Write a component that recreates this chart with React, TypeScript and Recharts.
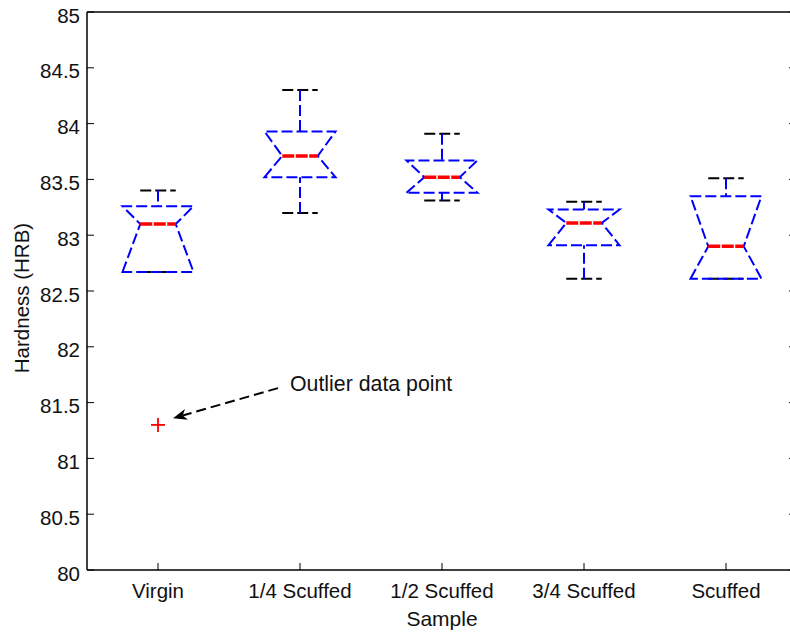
import React from 'react';
import {
  ComposedChart,
  XAxis,
  YAxis,
  Scatter,
  ReferenceLine,
  ReferenceDot,
} from 'recharts';

const samples = ['Virgin', '1/4 Scuffed', '1/2 Scuffed', '3/4 Scuffed', 'Scuffed'];
const sampleIndex = [1, 2, 3, 4, 5];
const whiskerLow = [82.67, 83.2, 83.31, 82.61, 82.61];
const quartile1 = [82.67, 83.52, 83.38, 82.91, 82.61];
const medians = [83.1, 83.71, 83.52, 83.11, 82.9];
const quartile3 = [83.26, 83.93, 83.67, 83.23, 83.35];
const whiskerHigh = [83.4, 84.3, 83.91, 83.3, 83.51];
const outlierSample = [1];
const outlierValue = [81.3];
const hardnessTicks = [80, 80.5, 81, 81.5, 82, 82.5, 83, 83.5, 84, 84.5, 85];

// annotation (data units)
const noteText = 'Outlier data point';
const noteAt = { x: 1.93, y: 81.6 };
const arrowFrom = { x: 1.845, y: 81.63 };
const arrowTo = { x: 1.106, y: 81.36 };

const outliers = outlierSample.map((s, k) => ({ sample: s, hardness: outlierValue[k] }));

const FONT = 'Liberation Sans, Arial, Helvetica, sans-serif';
const BOX_HALF = 0.25;
const TICK_LEN = 7;

const NotchBox = ({ x1, y1, x2, y2, i }: any) => {
  const lo = whiskerLow[i];
  const hi = whiskerHigh[i];
  const py = (v: number) => y1 + ((v - lo) / (hi - lo)) * (y2 - y1);
  const cx = (x1 + x2) / 2;
  const w = (x2 - x1) / 2;
  const n = w / 2;
  const yq1 = py(quartile1[i]);
  const yq3 = py(quartile3[i]);
  const ym = py(medians[i]);
  const yLo = py(lo);
  const yHi = py(hi);
  const pts = [
    [cx - w, yq1],
    [cx - n, ym],
    [cx - w, yq3],
    [cx + w, yq3],
    [cx + n, ym],
    [cx + w, yq1],
  ]
    .map((p) => p.join(','))
    .join(' ');
  return (
    <g>
      <line x1={cx - n} x2={cx + n} y1={yLo} y2={yLo} stroke="#000" strokeWidth={2} strokeDasharray="11 4" />
      <line x1={cx - n} x2={cx + n} y1={yHi} y2={yHi} stroke="#000" strokeWidth={2} strokeDasharray="11 4" />
      <line x1={cx} x2={cx} y1={yHi} y2={yq3} stroke="#0000ff" strokeWidth={2} strokeDasharray="11 4" />
      <line x1={cx} x2={cx} y1={yLo} y2={yq1} stroke="#0000ff" strokeWidth={2} strokeDasharray="11 4" />
      <polygon points={pts} fill="none" stroke="#0000ff" strokeWidth={2} strokeDasharray="11 4" />
      <line x1={cx - n} x2={cx + n} y1={ym} y2={ym} stroke="#ff0000" strokeWidth={3.5} strokeDasharray="12 1.5" />
    </g>
  );
};

const Arrow = ({ x1, y1, x2, y2 }: any) => {
  const dx = x2 - x1;
  const dy = y2 - y1;
  const len = Math.hypot(dx, dy);
  const ux = dx / len;
  const uy = dy / len;
  const nx = -uy;
  const ny = ux;
  const hl = 14;
  const hw = 5.5;
  const bx = x2 - ux * hl;
  const by = y2 - uy * hl;
  const head = [
    [x2, y2],
    [bx + nx * hw, by + ny * hw],
    [x2 - ux * (hl - 4), y2 - uy * (hl - 4)],
    [bx - nx * hw, by - ny * hw],
  ]
    .map((p) => p.join(','))
    .join(' ');
  return (
    <g>
      <line x1={x1} y1={y1} x2={bx + ux * 4} y2={by + uy * 4} stroke="#000" strokeWidth={2} strokeDasharray="10 5" />
      <polygon points={head} fill="#000" stroke="none" />
    </g>
  );
};

const Plus = ({ cx, cy }: any) => (
  <g>
    <line x1={cx - 7} x2={cx + 7} y1={cy} y2={cy} stroke="#ff0000" strokeWidth={1.8} />
    <line x1={cx} x2={cx} y1={cy - 7} y2={cy + 7} stroke="#ff0000" strokeWidth={1.8} />
  </g>
);

const BottomTick = ({ x, y, payload }: any) => (
  <g>
    <line x1={x} x2={x} y1={y} y2={y - TICK_LEN} stroke="#000" />
    <text x={x} y={y + 28} textAnchor="middle" fontFamily={FONT} fontSize={20.5} fill="#111">
      {samples[payload.value - 1]}
    </text>
  </g>
);

const TopTick = ({ x, y }: any) => (
  <line x1={x} x2={x} y1={y} y2={y + TICK_LEN} stroke="#000" />
);

const LeftTick = ({ x, y, payload }: any) => (
  <g>
    <line x1={x + 7} x2={x + 7 + TICK_LEN} y1={y} y2={y} stroke="#000" />
    <text x={x} y={y + 10.5} textAnchor="end" fontFamily={FONT} fontSize={20.5} fill="#111">
      {payload.value}
    </text>
  </g>
);

const RightTick = ({ x, y }: any) => (
  <line x1={x} x2={x - TICK_LEN - 1} y1={y} y2={y} stroke="#000" />
);

const YTitle = ({ viewBox }: any) => {
  const bx = viewBox.x + 29;
  const cy = viewBox.y + viewBox.height / 2 + 7;
  return (
    <text x={bx} y={cy} textAnchor="middle" transform={`rotate(-90, ${bx}, ${cy})`} fontFamily={FONT} fontSize={20.5} fill="#111">
      Hardness (HRB)
    </text>
  );
};

const XTitle = ({ viewBox }: any) => (
  <text x={viewBox.x + viewBox.width / 2} y={viewBox.y + 56} textAnchor="middle" fontFamily={FONT} fontSize={21} fill="#111">
    Sample
  </text>
);

const NoteLabel = ({ cx, cy }: any) => (
  <text x={cx} y={cy} fontFamily={FONT} fontSize={21.3} fill="#111">
    {noteText}
  </text>
);

export default function App() {
  return (
    <div style={{ position: 'fixed', left: 0, top: 0, width: 790, height: 633, overflow: 'hidden', background: '#fff' }}>
      <ComposedChart width={800} height={633} margin={{ top: 0, right: 0, bottom: 0, left: 0 }}>
        <XAxis
          xAxisId={0}
          dataKey="sample"
          type="number"
          domain={[0.5, 5.5]}
          ticks={sampleIndex}
          height={63}
          axisLine={{ stroke: '#000', strokeWidth: 1.5 }}
          tickLine={false}
          tickSize={0}
          tickMargin={0}
          tick={<BottomTick />}
          label={<XTitle />}
          allowDataOverflow
        />
        <XAxis
          xAxisId="top"
          orientation="top"
          type="number"
          domain={[0.5, 5.5]}
          ticks={sampleIndex}
          height={12}
          axisLine={{ stroke: '#000', strokeWidth: 1.5 }}
          tickLine={false}
          tickSize={0}
          tickMargin={0}
          tick={<TopTick />}
          allowDataOverflow
        />
        <YAxis
          yAxisId={0}
          type="number"
          domain={[80, 85]}
          ticks={hardnessTicks}
          width={87}
          axisLine={{ stroke: '#000', strokeWidth: 1.5 }}
          tickLine={false}
          tickSize={0}
          tickMargin={7}
          tick={<LeftTick />}
          label={<YTitle />}
          allowDataOverflow
        />
        <YAxis
          yAxisId="right"
          orientation="right"
          type="number"
          domain={[80, 85]}
          ticks={hardnessTicks}
          width={3}
          axisLine={{ stroke: '#000', strokeWidth: 1.5 }}
          tickLine={false}
          tickSize={0}
          tickMargin={0}
          tick={<RightTick />}
          allowDataOverflow
        />
        {samples.map((s, i) => (
          <ReferenceLine
            key={s}
            ifOverflow="visible"
            segment={[
              { x: sampleIndex[i] - BOX_HALF, y: whiskerLow[i] },
              { x: sampleIndex[i] + BOX_HALF, y: whiskerHigh[i] },
            ]}
            shape={(p: any) => <NotchBox {...p} i={i} />}
          />
        ))}
        <Scatter data={outliers} dataKey="hardness" shape={<Plus />} isAnimationActive={false} />
        <ReferenceLine
          ifOverflow="visible"
          segment={[arrowFrom, arrowTo]}
          shape={(p: any) => <Arrow {...p} />}
        />
        <ReferenceDot x={noteAt.x} y={noteAt.y} ifOverflow="visible" shape={(p: any) => <NoteLabel {...p} />} />
      </ComposedChart>
    </div>
  );
}
